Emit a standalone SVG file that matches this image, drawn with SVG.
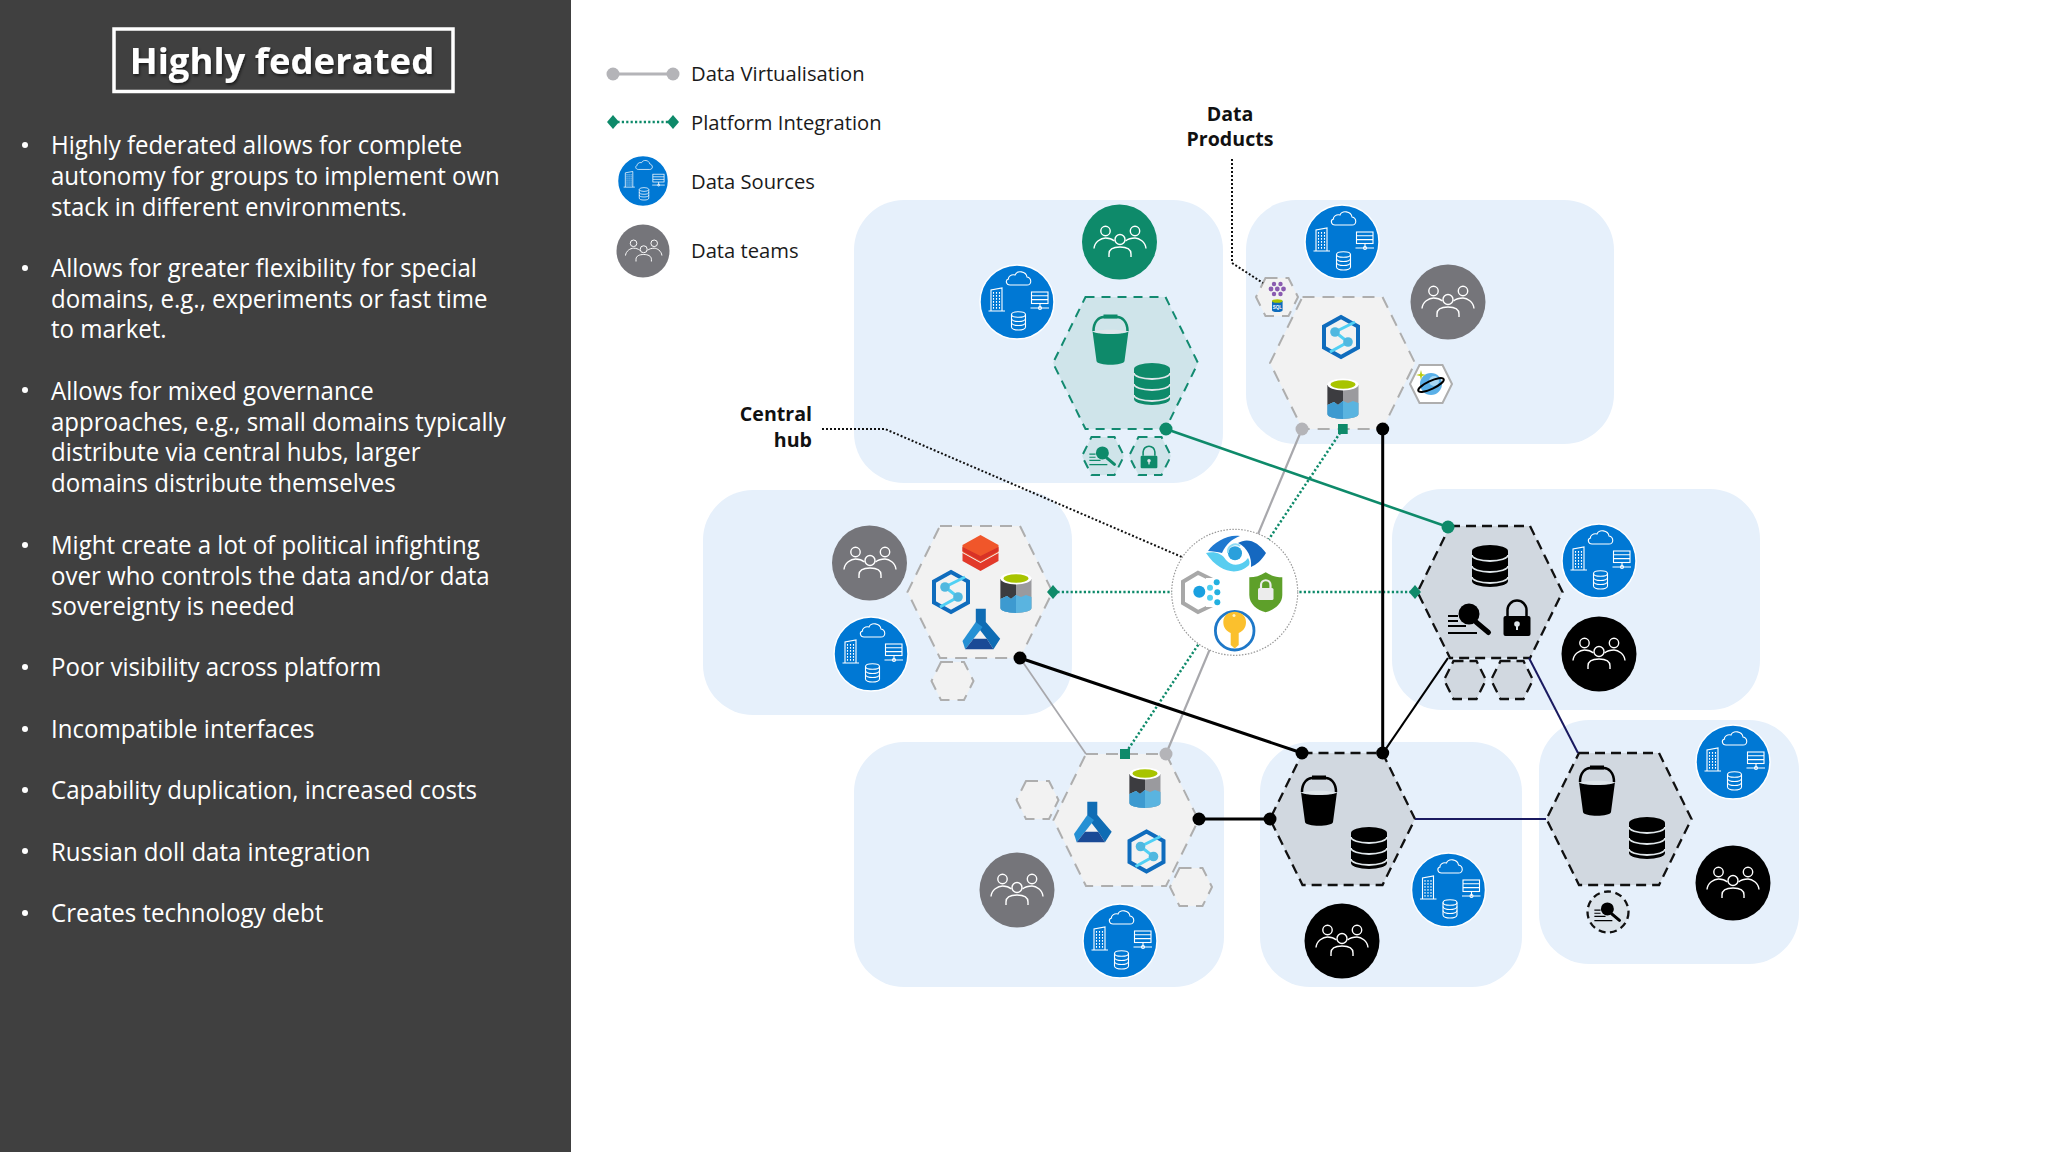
<svg xmlns="http://www.w3.org/2000/svg" width="2048" height="1152" viewBox="0 0 2048 1152">
<style>
.body{font-family:"Open Sans","Noto Sans",sans-serif;font-size:25.5px;fill:#fff}
.leg{font-family:"Open Sans","Noto Sans",sans-serif;font-size:20.2px;fill:#1a1a1a}
.lab{font-family:"Open Sans","Noto Sans",sans-serif;font-size:19.6px;font-weight:700;fill:#111}
.panel{fill:#e6f0fb}
.hg{fill:#f2f2f2;stroke:#aeaeae;stroke-width:2;stroke-dasharray:12 8}
.hk{fill:#d1d8e0;stroke:#111;stroke-width:2.3;stroke-dasharray:10 6}
.hn{fill:#cfe4ea;stroke:#128a70;stroke-width:2;stroke-dasharray:9 7}
.c-src{fill:#0078d4;stroke:#fff;stroke-width:1.5}
.c-grey{fill:#75757a}.c-k{fill:#000}.c-g{fill:#0e8a6a}
.l-k{stroke:#000;fill:none}
.dot{stroke:#111;stroke-width:2;stroke-dasharray:2 2;fill:none}
.gdot{stroke:#0e8a6a;stroke-width:2.5;stroke-dasharray:2.2 2.2;fill:none}
</style>
<defs>
<filter id="sh" x="-5%" y="-10%" width="110%" height="130%"><feDropShadow dx="1" dy="2" stdDeviation="1.5" flood-color="#000" flood-opacity=".6"/></filter>
<marker id="mk" markerUnits="userSpaceOnUse" markerWidth="14" markerHeight="14" refX="7" refY="7"><circle cx="7" cy="7" r="6.5" fill="#000"/></marker>
<marker id="mg" markerUnits="userSpaceOnUse" markerWidth="14" markerHeight="14" refX="7" refY="7"><circle cx="7" cy="7" r="6.5" fill="#b4b4b8"/></marker>
<marker id="mn" markerUnits="userSpaceOnUse" markerWidth="14" markerHeight="14" refX="7" refY="7"><circle cx="7" cy="7" r="6.5" fill="#0e8a6a"/></marker>
<marker id="ms" markerUnits="userSpaceOnUse" markerWidth="10" markerHeight="10" refX="5" refY="5"><rect width="10" height="10" fill="#0e8a6a"/></marker>
<marker id="md" markerUnits="userSpaceOnUse" markerWidth="14" markerHeight="14" refX="7" refY="7"><path d="M7 0 13 7 7 14 1 7Z" fill="#0e8a6a"/></marker>
<polygon id="hex" points="-40,-66 40,-66 72.5,0 40,66 -40,66 -72.5,0"/>
<polygon id="mini" points="-11.5,-19 11.5,-19 21,0 11.5,19 -11.5,19 -21,0"/>
<g id="src" fill="none" stroke="#fff" stroke-width="1.1">
<path d="M-7-17H10C15-17 15-24 10-25 9-31 0-32-2-27-6-28-9-25-8.5-23-12-22-11-17-7-17Z"/>
<path d="M-26 9V-12L-15-14V9M-28.500 9H-12"/>
<path d="M-23.500-10V7M-20.500-10V7M-17.500-10V7" stroke-dasharray="1.800 1.200"/>
<rect x="14.500" y="-10" width="16.500" height="11.500"/>
<path d="M14.500-6.200H31M14.500-2.400H31M23 1.500V6M13.500 6H32"/>
<circle cx="23" cy="6" r="1.500"/>
<path d="M-5.500 12.500V25A7 3 0 0 0 8.500 25V12.500"/><ellipse cx="1.500" cy="12.500" rx="7" ry="2.800"/>
<path d="M-5.500 16.500A7 3 0 0 0 8.500 16.500M-5.500 20.500A7 3 0 0 0 8.500 20.500"/>
</g>
<g id="team" fill="none" stroke="#fff" stroke-width="1.4">
<circle cx="-13.500" cy="-11" r="4.700"/><circle cx="16" cy="-11" r="4.700"/><circle cx="1" cy="-2.500" r="5"/>
<path d="M-25 6.500C-24.500-0-18-4-13.500-4-10-4-7-3-4.500-1M27 6.500C26.500-0 20-4 16-4 12-4 9-3 6.500-1M-10 15V12C-10 7-5 5 1 5 7 5 12 7 12 12V15"/>
</g>
<g id="bucket">
<path d="M-17-9C-17-19-11-23-7-23H7C11-23 17-19 17-9" fill="none" stroke="currentColor" stroke-width="2.500"/>
<rect x="-7" y="-25.500" width="14" height="4" fill="currentColor"/>
<path d="M-18-9C-18-5 18-5 18-9L14 21C13 26-13 26-14 21Z" fill="currentColor"/>
<path d="M-17-8.500C-10-11 10-11 17-8.500 10-5.500-10-5.500-17-8.500Z" fill="#dfe6ea"/>
</g>
<g id="db">
<path d="M-18-15A18 6 0 0 1 18-15V15A18 6 0 0 1-18 15Z" fill="currentColor"/>
<path d="M-18-11A18 6 0 0 0 18-11M-18 0A18 6 0 0 0 18 0M-18 11A18 6 0 0 0 18 11" fill="none" stroke="#dfe6ea" stroke-width="1.800"/>
</g>
<g id="search">
<circle cx="-1" cy="-5" r="10.500" fill="currentColor"/>
<path d="M6 3 18.500 13.500" stroke="currentColor" stroke-width="5" stroke-linecap="round"/>
<path d="M-22-3H-12M-22 2H-12M-22 7H-4M-22 14H7" stroke="currentColor" stroke-width="1.800"/>
</g>
<g id="lock">
<path d="M-9.500-2V-8A9.500 9.500 0 0 1 9.500-8V-2" fill="none" stroke="currentColor" stroke-width="2.500"/>
<rect x="-13.500" y="-2" width="27" height="20" rx="2" fill="currentColor"/>
<circle cy="6" r="2.800" fill="#dfe6ea"/><rect x="-1" y="6" width="2" height="6" fill="#dfe6ea"/>
</g>
<g id="syn">
<path d="M0-20 17-10.500V10.500L0 20-17 10.500V-10.500Z" fill="none" stroke="#0f6cbd" stroke-width="4"/>
<path d="M14-15-6-5 7 5-11 15" fill="none" stroke="#50d0f4" stroke-width="3"/>
<circle cx="-6" cy="-5" r="4.800" fill="#50b8e0"/><circle cx="7" cy="5" r="4.800" fill="#50b8e0"/>
</g>
<g id="adls">
<path d="M-15.500-13V16A15.500 5 0 0 0 15.500 16V-13Z" fill="#9a9a9e"/>
<path d="M-15.500-13V7L-9 4-5 7 0 3V-13Z" fill="#3c3c40"/>
<path d="M-15.500 7-9 4-5 7 0 3 5 5 10 3 15.500 5V16A15.500 5 0 0 1-15.500 16Z" fill="#5ab4e0"/>
<path d="M-15.500 7-9 4-5 7 0 3V21A15.500 5 0 0 1-15.500 16Z" fill="#3d9ad0"/>
<ellipse cy="-13.500" rx="15.500" ry="6" fill="#fff"/><ellipse cy="-13.500" rx="12.500" ry="4.200" fill="#a8c400"/>
</g>
<g id="ml">
<path d="M-4.700-20.300H5.300V-7L19.700 9.700 13 20.300 6.300 9.700-.3 1.300-4.700-5Z" fill="#0f6cb4"/>
<path d="M-4.700-7-18 12-15.300 20.300-.3 1.300 2-2Z" fill="#2590d4"/>
<path d="M-7 9.700H6.300L13 20.300H-15.300Z" fill="#1a4a96"/>
</g>
<g id="brick">
<path d="M0-18 18-8V-1L0 9-18-1V-8Z" fill="#f0562a"/>
<path d="M-18 0 0 10 18 0V8L0 18-18 8Z" fill="#e23a2b"/>
<path d="M-18-6 0 3 18-6V-2L0 8-18-2Z" fill="#d83226"/>
</g>
</defs>

<rect width="2048" height="1152" fill="#fff"/>

<g id="sidebar">
<rect width="571" height="1152" fill="#404040"/>
<rect x="114" y="29" width="339" height="62.500" fill="none" stroke="#fff" stroke-width="3.500"/>
<text x="282" y="74" text-anchor="middle" filter="url(#sh)" style="font-family:'Open Sans','Noto Sans',sans-serif;font-weight:700;font-size:36.500px;fill:#fff">Highly federated</text>
<g fill="#fff"><circle cx="25" cy="145" r="3"/><circle cx="25" cy="268" r="3"/><circle cx="25" cy="390" r="3"/><circle cx="25" cy="545" r="3"/><circle cx="25" cy="667" r="3"/><circle cx="25" cy="729" r="3"/><circle cx="25" cy="790" r="3"/><circle cx="25" cy="851" r="3"/><circle cx="25" cy="913" r="3"/></g>
<g class="body" transform="translate(51 1) scale(.943 1)">
<text y="153">Highly federated allows for complete</text>
<text y="184">autonomy for groups to implement own</text>
<text y="215">stack in different environments.</text>
<text y="276">Allows for greater flexibility for special</text>
<text y="307">domains, e.g., experiments or fast time</text>
<text y="337">to market.</text>
<text y="399">Allows for mixed governance</text>
<text y="430">approaches, e.g., small domains typically</text>
<text y="460">distribute via central hubs, larger</text>
<text y="491">domains distribute themselves</text>
<text y="553">Might create a lot of political infighting</text>
<text y="584">over who controls the data and/or data</text>
<text y="614">sovereignty is needed</text>
<text y="675">Poor visibility across platform</text>
<text y="737">Incompatible interfaces</text>
<text y="798">Capability duplication, increased costs</text>
<text y="860">Russian doll data integration</text>
<text y="921">Creates technology debt</text>
</g>
</g>

<g id="legend">
<line x1="613" y1="74" x2="673" y2="74" stroke="#b4b4b8" stroke-width="3" marker-start="url(#mg)" marker-end="url(#mg)"/>
<line x1="613" y1="122" x2="673" y2="122" class="gdot" marker-start="url(#md)" marker-end="url(#md)"/>
<circle cx="643" cy="181" r="25.500" class="c-src"/><use href="#src" transform="translate(643 181) scale(.68)"/>
<circle cx="643" cy="251" r="26.500" class="c-grey"/><use href="#team" transform="translate(643 251) scale(.7)"/>
<g class="leg">
<text x="691" y="81">Data Virtualisation</text>
<text x="691" y="130">Platform Integration</text>
<text x="691" y="189">Data Sources</text>
<text x="691" y="258">Data teams</text>
</g>
</g>

<g id="domain-1">
<rect class="panel" x="854" y="200" width="369" height="283" rx="50"/>
<circle cx="1119.500" cy="242" r="37.500" class="c-g"/><use href="#team" transform="translate(1119 242)"/>
<circle cx="1017" cy="302" r="37" class="c-src"/><use href="#src" transform="translate(1017 302)"/>
<use href="#hex" class="hn" transform="translate(1125.500 363)"/>
<g color="#0e8a6a">
<use href="#bucket" transform="translate(1110.500 340)"/><use href="#db" transform="translate(1152 384)"/>
<use href="#mini" class="hn" transform="translate(1103 456)"/><use href="#mini" class="hn" transform="translate(1150 456)"/>
<use href="#search" transform="translate(1103 456) scale(.62)"/><use href="#lock" transform="translate(1149 457) scale(.62)"/>
</g>
</g>

<g id="domain-2">
<rect class="panel" x="1246" y="200" width="368" height="244" rx="50"/>
<circle cx="1342" cy="242" r="37" class="c-src"/><use href="#src" transform="translate(1342 242)"/>
<circle cx="1448" cy="302" r="37.500" class="c-grey"/><use href="#team" transform="translate(1447 302)"/>
<use href="#hex" class="hg" transform="translate(1342.500 363)"/>
<use href="#syn" transform="translate(1341 337)"/><use href="#adls" transform="translate(1343 398)"/>
<use href="#mini" class="hg" transform="translate(1277 297)"/>
<g fill="#8a5bb0"><circle cx="1277.300" cy="289" r="2.400"/><circle cx="1271" cy="289" r="2.400"/><circle cx="1283.500" cy="289" r="2.400"/><circle cx="1274" cy="284" r="2.200"/><circle cx="1280.500" cy="284" r="2.200"/><circle cx="1274" cy="294" r="2.200"/><circle cx="1280.500" cy="294" r="2.200"/></g>
<path d="M1272 301V310A5.300 2 0 0 0 1282.600 310V301Z" fill="#0f6cbd"/><ellipse cx="1277.300" cy="301" rx="5.300" ry="1.800" fill="#a8c400"/>
<text x="1277.300" y="308.500" text-anchor="middle" style="font-family:'Liberation Sans',sans-serif;font-size:4.500px;font-weight:700;fill:#fff">SQL</text>
<g id="cosmos">
<polygon points="1419.500,365 1442.500,365 1452,384 1442.500,403 1419.500,403 1410,384" fill="#fff" stroke="#aeaeae" stroke-width="2"/>
<circle cx="1431" cy="384" r="11" fill="#5ab0e8"/><circle cx="1434" cy="381" r="5" fill="#a8d8f4"/>
<ellipse cx="1431" cy="385" rx="14" ry="4" transform="rotate(-25 1431 385)" fill="none" stroke="#000" stroke-width="2"/>
<path d="M1421 370 1422 374 1426 375 1422 376 1421 380 1420 376 1416 375 1420 374Z" fill="#b8cc10"/>
</g>
</g>

<g id="domain-3">
<rect class="panel" x="703" y="490" width="369" height="225" rx="50"/>
<circle cx="869.500" cy="563" r="37.500" class="c-grey"/><use href="#team" transform="translate(869 563)"/>
<circle cx="871" cy="654" r="37" class="c-src"/><use href="#src" transform="translate(871 654)"/>
<use href="#hex" class="hg" transform="translate(980 592)"/>
<use href="#brick" transform="translate(980.500 553)"/><use href="#syn" transform="translate(951 592)"/><use href="#adls" transform="translate(1016 592)"/><use href="#ml" transform="translate(980.500 629)"/>
<use href="#mini" class="hg" transform="translate(952.500 681)"/>
</g>

<g id="domain-4">
<rect class="panel" x="1392" y="489" width="368" height="221" rx="50"/>
<circle cx="1599" cy="561" r="37" class="c-src"/><use href="#src" transform="translate(1599 561)"/>
<circle cx="1599" cy="654" r="37.500" class="c-k"/><use href="#team" transform="translate(1598 654)"/>
<use href="#hex" class="hk" transform="translate(1490 592)"/>
<g color="#000"><use href="#db" transform="translate(1490 566)"/><use href="#search" transform="translate(1470 619)"/><use href="#lock" transform="translate(1517 618)"/></g>
<use href="#mini" class="hk" transform="translate(1465 680)"/><use href="#mini" class="hk" transform="translate(1512 680)"/>
</g>

<g id="domain-5">
<rect class="panel" x="854" y="742" width="370" height="245" rx="50"/>
<circle cx="1017" cy="890" r="37.500" class="c-grey"/><use href="#team" transform="translate(1016 890)"/>
<circle cx="1120" cy="941" r="37" class="c-src"/><use href="#src" transform="translate(1120 941)"/>
<use href="#hex" class="hg" transform="translate(1126 820)"/>
<use href="#adls" transform="translate(1145 787)"/><use href="#ml" transform="translate(1092 822)"/><use href="#syn" transform="translate(1146.500 851.500)"/>
<use href="#mini" class="hg" transform="translate(1037.500 800)"/><use href="#mini" class="hg" transform="translate(1191 887)"/>
</g>

<g id="domain-6">
<rect class="panel" x="1260" y="742" width="262" height="245" rx="50"/>
<circle cx="1448.500" cy="890" r="37" class="c-src"/><use href="#src" transform="translate(1448.500 890)"/>
<circle cx="1342" cy="941" r="37.500" class="c-k"/><use href="#team" transform="translate(1341 941)"/>
<use href="#hex" class="hk" transform="translate(1342.500 819)"/>
<g color="#000"><use href="#bucket" transform="translate(1319 801)"/><use href="#db" transform="translate(1369 848)"/></g>
</g>

<g id="domain-7">
<rect class="panel" x="1539" y="720" width="260" height="244" rx="50"/>
<circle cx="1733" cy="762" r="37" class="c-src"/><use href="#src" transform="translate(1733 762)"/>
<circle cx="1733" cy="883" r="37.500" class="c-k"/><use href="#team" transform="translate(1732 883)"/>
<use href="#hex" class="hk" transform="translate(1619 819)"/>
<g color="#000"><use href="#bucket" transform="translate(1597 791)"/><use href="#db" transform="translate(1647 838)"/>
<circle cx="1608" cy="912" r="20.500" fill="#dbe3ea" stroke="#111" stroke-width="2.300" stroke-dasharray="7 4.500"/>
<use href="#search" transform="translate(1608 912) scale(.62)"/></g>
</g>

<g id="connectors">
<line x1="1302" y1="429" x2="1166" y2="754" stroke="#a8a8ac" stroke-width="2.200" marker-start="url(#mg)" marker-end="url(#mg)"/>
<line x1="1020" y1="658" x2="1086" y2="754" stroke="#a8a8ac" stroke-width="1.800"/>
<line x1="1342.700" y1="429" x2="1125" y2="754" class="gdot" marker-start="url(#ms)" marker-end="url(#ms)"/>
<line x1="1053" y1="592" x2="1415" y2="592" class="gdot" marker-start="url(#md)" marker-end="url(#md)"/>
<line x1="1166" y1="429" x2="1448" y2="527" stroke="#0e8a6a" stroke-width="2.600" marker-start="url(#mn)" marker-end="url(#mn)"/>
<line x1="1382.700" y1="429" x2="1382.700" y2="753" class="l-k" stroke-width="3" marker-start="url(#mk)" marker-end="url(#mk)"/>
<line x1="1020" y1="658" x2="1302" y2="753" class="l-k" stroke-width="3" marker-start="url(#mk)" marker-end="url(#mk)"/>
<line x1="1199" y1="819" x2="1270" y2="819" class="l-k" stroke-width="3" marker-start="url(#mk)" marker-end="url(#mk)"/>
<line x1="1383" y1="753" x2="1448" y2="658" class="l-k" stroke-width="2.200"/>
<line x1="1529" y1="658" x2="1578" y2="753" stroke="#1a1a60" stroke-width="2"/>
<line x1="1415" y1="819" x2="1546" y2="819" stroke="#1a1a60" stroke-width="2"/>
<path d="M1232 159V263L1263 283" class="dot"/>
<path d="M822 429H885L1182 557" class="dot"/>
</g>

<g id="central-hub">
<circle cx="1234.700" cy="592.300" r="63" fill="#fff" stroke="#999" stroke-width="1.200" stroke-dasharray="1.500 1.500"/>
<path d="M1208 551C1214 542 1228 534 1240 536 1232 539 1226 544 1222 553 1218 552 1212 551 1208 551Z" fill="#1f78d0"/>
<path d="M1238 543C1248 537 1258 542 1266 553 1262 560 1256 565 1251 567 1252 558 1248 548 1238 543Z" fill="#1568c0"/>
<path d="M1206 553C1214 551 1222 553 1226 560 1232 567 1242 566 1248 558 1250 561 1250 565 1248 566 1238 575 1220 574 1206 553Z" fill="#58cdf0"/>
<circle cx="1235" cy="553.300" r="7" fill="#2aa0dc"/>
<path d="M1228 553A7.500 7.500 0 0 1 1240 546" fill="none" stroke="#8fdcf4" stroke-width="2"/>
<path d="M1212.700 580 1198 572.700 1183 581.700V603L1198 612 1212.700 605" fill="none" stroke="#a8a8a8" stroke-width="4"/>
<rect x="1206" y="578" width="14" height="29" fill="#fff"/>
<circle cx="1199.300" cy="591.700" r="6" fill="#1aa0e0"/>
<g fill="#50d0f0"><circle cx="1210" cy="587.700" r="3"/><circle cx="1210" cy="597.700" r="3"/></g>
<g fill="#22b0e0"><circle cx="1216.700" cy="582.300" r="3"/><circle cx="1217.300" cy="592.300" r="3"/><circle cx="1217.300" cy="602.300" r="3"/></g>
<path d="M1265.700 572.300C1271 576 1277 577.300 1282.300 577.300V595C1282.300 604 1274 610 1265.700 612.300 1257 610 1249.300 604 1249.300 595V577.300C1255 577.300 1260 576 1265.700 572.300Z" fill="#5ea02a"/>
<rect x="1258" y="588" width="15.500" height="12" rx="1.500" fill="#ececec"/><path d="M1261 588V585A4.700 4.700 0 0 1 1270.500 585V588" fill="none" stroke="#ececec" stroke-width="2.200"/>
<circle cx="1234.700" cy="630.700" r="19.300" fill="#fff" stroke="#1e78c8" stroke-width="2.800"/>
<path d="M1234.700 611.700C1240 611.700 1246 615 1246 622 1246 628 1243 631 1238.700 633V645L1234.700 648.500 1230.700 645V633C1226.500 631 1223.300 628 1223.300 622 1223.300 615 1229 611.700 1234.700 611.700Z" fill="#fbc02d"/>
<circle cx="1234" cy="615.500" r="1.500" fill="#fff3c4"/>
</g>

<g id="labels" class="lab">
<text x="1230" y="120.500" text-anchor="middle">Data</text>
<text x="1230" y="146" text-anchor="middle">Products</text>
<text x="812" y="421" text-anchor="end">Central</text>
<text x="812" y="447" text-anchor="end">hub</text>
</g>
</svg>
